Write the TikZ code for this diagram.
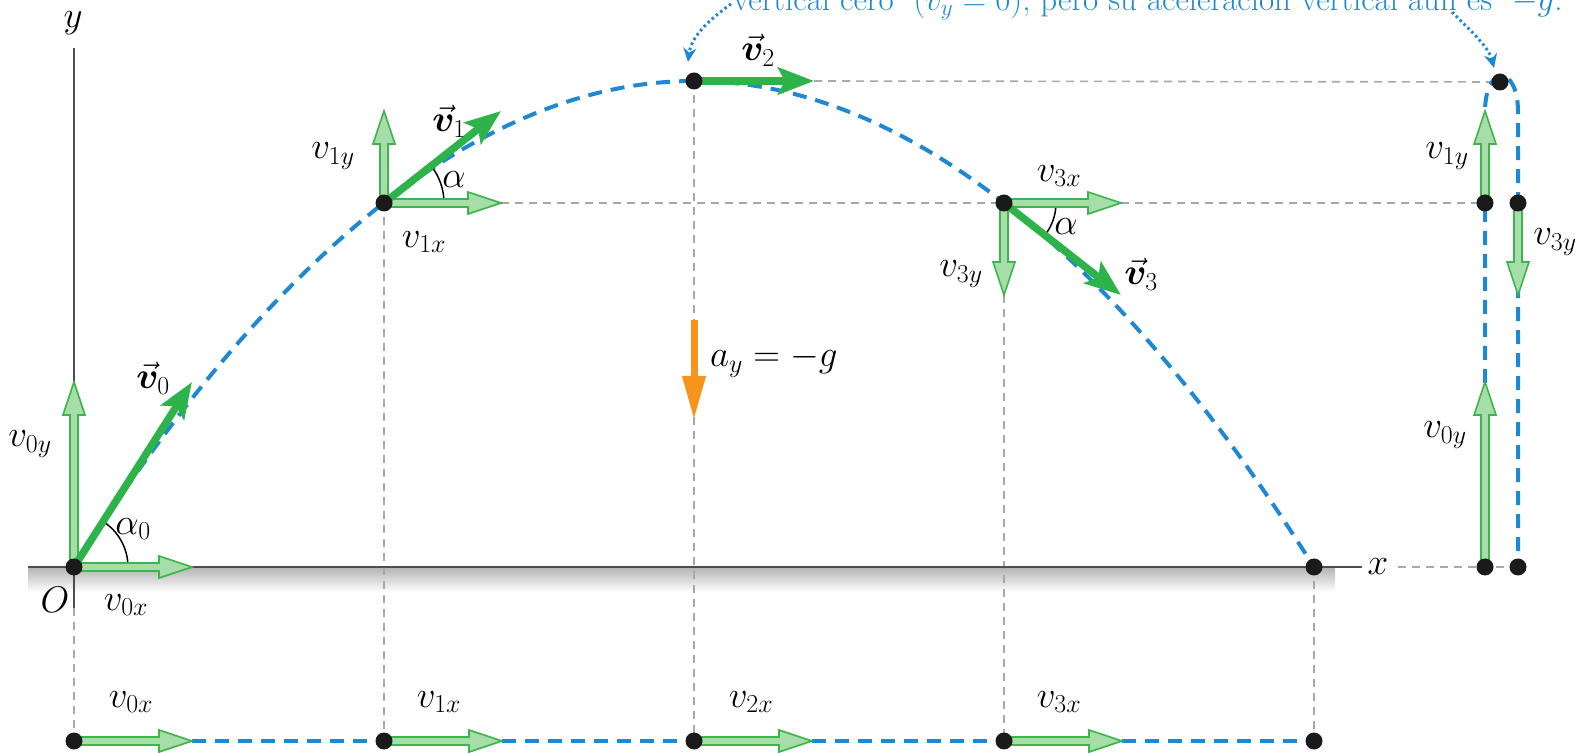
\documentclass[tikz,border=0pt]{standalone}
\usepackage{fix-cm}
\usepackage{amsmath}
\usepackage{bm}
\usetikzlibrary{arrows.meta,calc}
\definecolor{traj}{HTML}{1E88D2}
\definecolor{vgreen}{HTML}{2DB34A}
\definecolor{cfill}{HTML}{A6DDA9}
\definecolor{cline}{HTML}{3DB54A}
\definecolor{aorange}{HTML}{F7941D}
\definecolor{guide}{HTML}{A8A8A8}
\definecolor{axisc}{HTML}{4D4D4D}
\definecolor{dotc}{HTML}{1A1A1A}
\newcommand{\comparrow}[2]{%
  \coordinate (tmph) at ($(#2)!33pt!(#1)$);
  \filldraw[comp] ($(#1)!4pt!90:(#2)$) -- ($(tmph)!4pt!90:(#2)$) -- ($(tmph)!11pt!90:(#2)$) -- (#2)
    -- ($(tmph)!11pt!-90:(#2)$) -- ($(tmph)!4pt!-90:(#2)$) -- ($(#1)!4pt!-90:(#2)$) -- cycle;}
\tikzset{
  every node/.style={font=\fontsize{37}{44}\selectfont, inner sep=0pt},
  trajline/.style={traj, line width=4pt, dash pattern=on 14pt off 9pt},
  guideline/.style={guide, line width=1.6pt, dash pattern=on 8pt off 6pt},
  vec/.style={vgreen, line width=7.5pt, -{Stealth[length=36pt,width=27pt,inset=7pt]}},
  comp/.style={draw=cline, fill=cfill, line width=1.6pt, line join=miter},
  dotnode/.style={circle, fill=dotc, minimum size=17pt, inner sep=0pt},
  anglearc/.style={black, line width=1.5pt},
  dotarr/.style={traj, line width=3pt, dash pattern=on 2.5pt off 3pt, -{Stealth[length=14pt,width=13pt]}},
}
\begin{document}
\begin{tikzpicture}[x=1pt,y=1pt]
\useasboundingbox (0,0) rectangle (1581,752);
\begin{scope}
\clip (0,0) rectangle (1581,752);
% main points
\coordinate (O) at (74,185);
\coordinate (P1) at (384,549);
\coordinate (P2) at (694,671);
\coordinate (P3) at (1004,549);
\coordinate (L) at (1314,185);
% vector tips
\coordinate (v0) at (192,370);
\coordinate (v0x) at (192,185);
\coordinate (v0y) at (74,370);
\coordinate (v1) at (501,641);
\coordinate (v1x) at (501,549);
\coordinate (v1y) at (384,641);
\coordinate (v2) at (814,671);
\coordinate (v3) at (1121,457);
\coordinate (v3x) at (1121,549);
\coordinate (v3y) at (1004,457);
% right column
\coordinate (RA) at (1500,670);
\coordinate (R1) at (1485,549);
\coordinate (R3) at (1518,549);
\coordinate (R0) at (1485,185);
\coordinate (RL) at (1518,185);
\coordinate (R1t) at (1485,641);
\coordinate (R3t) at (1518,457);
\coordinate (R0t) at (1485,370);
% bottom row
\coordinate (B0) at (74,11);
\coordinate (B1) at (384,11);
\coordinate (B2) at (694,11);
\coordinate (B3) at (1004,11);
\coordinate (B4) at (1314,11);
\coordinate (b0t) at (192,11);
\coordinate (b1t) at (502,11);
\coordinate (b2t) at (812,11);
\coordinate (b3t) at (1122,11);
% axes ends
\coordinate (ytop) at (74,704);
\coordinate (ybot) at (74,144);
\coordinate (gl) at (28,185);
\coordinate (gr) at (1362,185);
% ground shadow
\shade[top color=black!30, bottom color=white] (28,160) rectangle (1335,185);
% guides
\draw[guideline] (ybot) -- (B0);
\draw[guideline] (P1) -- (B1);
\draw[guideline] (P2) -- (B2);
\draw[guideline] (v3y) -- (B3);
\draw[guideline] (L) -- (B4);
\draw[guideline] (v2) -- (RA);
\draw[guideline] (v1x) -- (P3);
\draw[guideline] (v3x) -- (R1);
\draw[guideline] (1398,185) -- (R0) -- (RL);
% axes
\draw[axisc, line width=2pt] (ytop) -- (ybot);
\draw[axisc, line width=2pt] (gl) -- (gr);
% trajectory
\draw[trajline] (O) parabola bend (P2) (L);
\draw[trajline] (R0) -- (1485,640) .. controls (1485,688) and (1518,688) .. (1518,640) -- (RL);
\draw[trajline] (b0t) -- (B1);
\draw[trajline] (b1t) -- (B2);
\draw[trajline] (b2t) -- (B3);
\draw[trajline] (b3t) -- (B4);
% angle arcs
\draw[anglearc] ($(O)+(54,0)$) arc (0:57.5:54);
\draw[anglearc] ($(P1)+(60,0)$) arc (0:38:60);
\draw[anglearc] ($(P3)+(52,0)$) arc (0:-38:52);
% component arrows
\comparrow{O}{v0x}
\comparrow{O}{v0y}
\comparrow{P1}{v1x}
\comparrow{P1}{v1y}
\comparrow{P3}{v3x}
\comparrow{P3}{v3y}
\comparrow{R1}{R1t}
\comparrow{R3}{R3t}
\comparrow{R0}{R0t}
\comparrow{B0}{b0t}
\comparrow{B1}{b1t}
\comparrow{B2}{b2t}
\comparrow{B3}{b3t}
% main vectors
\draw[vec] (O) -- (v0);
\draw[vec] (P1) -- (v1);
\draw[vec] (P2) -- (v2);
\draw[vec] (P3) -- (v3);
% acceleration
\coordinate (a1) at (694,432);
\coordinate (a2) at (694,332);
\draw[aorange, line width=7pt, -{Triangle[length=44pt,width=22pt]}] (a1) -- (a2);
% dots
\foreach \p in {O,P1,P2,P3,L,RA,R1,R3,R0,RL,B0,B1,B2,B3,B4}
  \node[dotnode] (d\p) at (\p) {};
% labels
\node[anchor=base] (ylab) at (73,724) {$y$};
\node (xlab) at (1378,185) {$x$};
\node (Olab) at (55,152) {$O$};
\node (lv0) at (153,374) {$\vec{\bm v}_0$};
\node (lv0y) at (30,308) {$v_{0y}$};
\node (la0) at (133,223) {$\alpha_0$};
\node (lv0x) at (126,147) {$v_{0x}$};
\node (lv1y) at (333,596) {$v_{1y}$};
\node (lv1) at (449,631) {$\vec{\bm v}_1$};
\node (la1) at (454,572) {$\alpha$};
\node (lv1x) at (424,510) {$v_{1x}$};
\node (lv2) at (758,702) {$\vec{\bm v}_2$};
\node (lv3x) at (1059,576) {$v_{3x}$};
\node (la3) at (1066,525) {$\alpha$};
\node (lv3y) at (961,478) {$v_{3y}$};
\node (lv3) at (1141,478) {$\vec{\bm v}_3$};
\node[anchor=west] (lay) at (710,391) {$a_y = -g$};
\node (rv1y) at (1447,596) {$v_{1y}$};
\node (rv3y) at (1555,510) {$v_{3y}$};
\node (rv0y) at (1445,317) {$v_{0y}$};
\node (bv0) at (131,50) {$v_{0x}$};
\node (bv1) at (439,50) {$v_{1x}$};
\node (bv2) at (751,50) {$v_{2x}$};
\node (bv3) at (1059,50) {$v_{3x}$};
% top note (cut off by the frame, as in the reference)
\node[anchor=base west, text=traj, font=\fontsize{33}{38}\selectfont] (note) at (733,741)
  {vertical cero\ \ ($v_y = 0$), pero su aceleración vertical aún es\ \ $-g$.};
\coordinate (n1) at (731,748);
\coordinate (n1e) at (688,690);
\coordinate (n2) at (1452,740);
\coordinate (n2e) at (1494,684);
\draw[dotarr] (n1) .. controls (706,730) and (691,714) .. (n1e);
\draw[dotarr] (n2) .. controls (1474,718) and (1489,704) .. (n2e);
\end{scope}
\end{tikzpicture}
\end{document}
